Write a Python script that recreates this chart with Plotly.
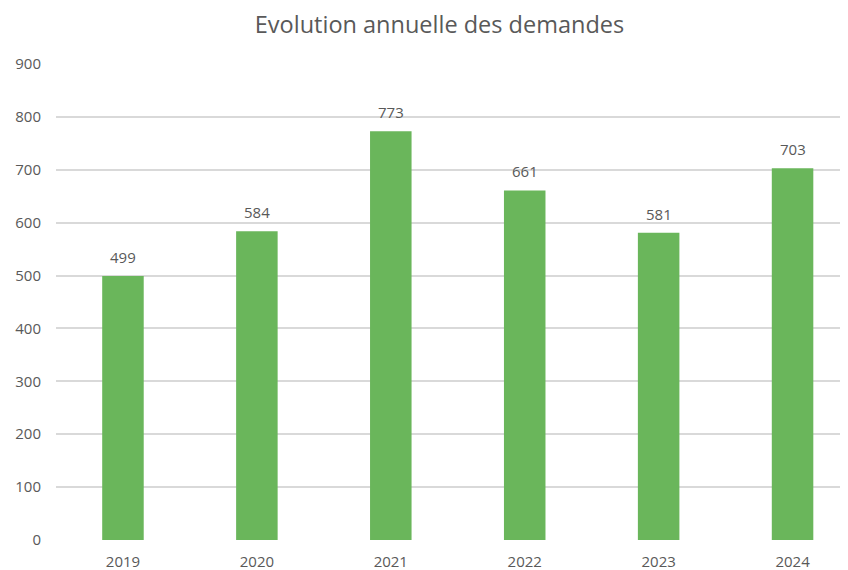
import plotly.graph_objects as go

years = ["2019", "2020", "2021", "2022", "2023", "2024"]
demandes = [499, 584, 773, 661, 581, 703]
y_ticks = [0, 100, 200, 300, 400, 500, 600, 700, 800, 900]

FONT = "Open Sans"
GRAY = "#595959"

fig = go.Figure()
fig.add_trace(go.Bar(
    x=years, y=demandes,
    marker=dict(color="#6AB65B", line=dict(width=0)),
    width=0.31,
    hoverinfo="x+y",
))
for i, v in enumerate(demandes):
    fig.add_annotation(x=i, y=v, xref="x", yref="y", text=str(v), showarrow=False,
                       yanchor="bottom", yshift=7,
                       font=dict(family=FONT, size=15, color=GRAY))

fig.update_layout(
    width=840, height=562,
    margin=dict(l=47.5, r=0, t=55.5, b=30),
    paper_bgcolor="white", plot_bgcolor="white",
    title=dict(text="Evolution annuelle des demandes", x=431.5 / 840, xanchor="center",
               xref="container", yref="container", y=1 - 17 / 562, yanchor="middle",
               font=dict(family=FONT, size=23.5, color=GRAY)),
    showlegend=False,
    xaxis=dict(type="category", range=[-0.5, 5.414], showline=False, showgrid=False,
               ticks="", ticklabelstandoff=11,
               tickfont=dict(family=FONT, size=15, color=GRAY)),
    yaxis=dict(range=[0, 900], tickvals=y_ticks, showline=False, zeroline=False,
               gridcolor="#D9D9D9", gridwidth=1.5, ticks="", ticklabelstandoff=14,
               tickfont=dict(family=FONT, size=15, color=GRAY)),
)
fig.write_html("out.html")
